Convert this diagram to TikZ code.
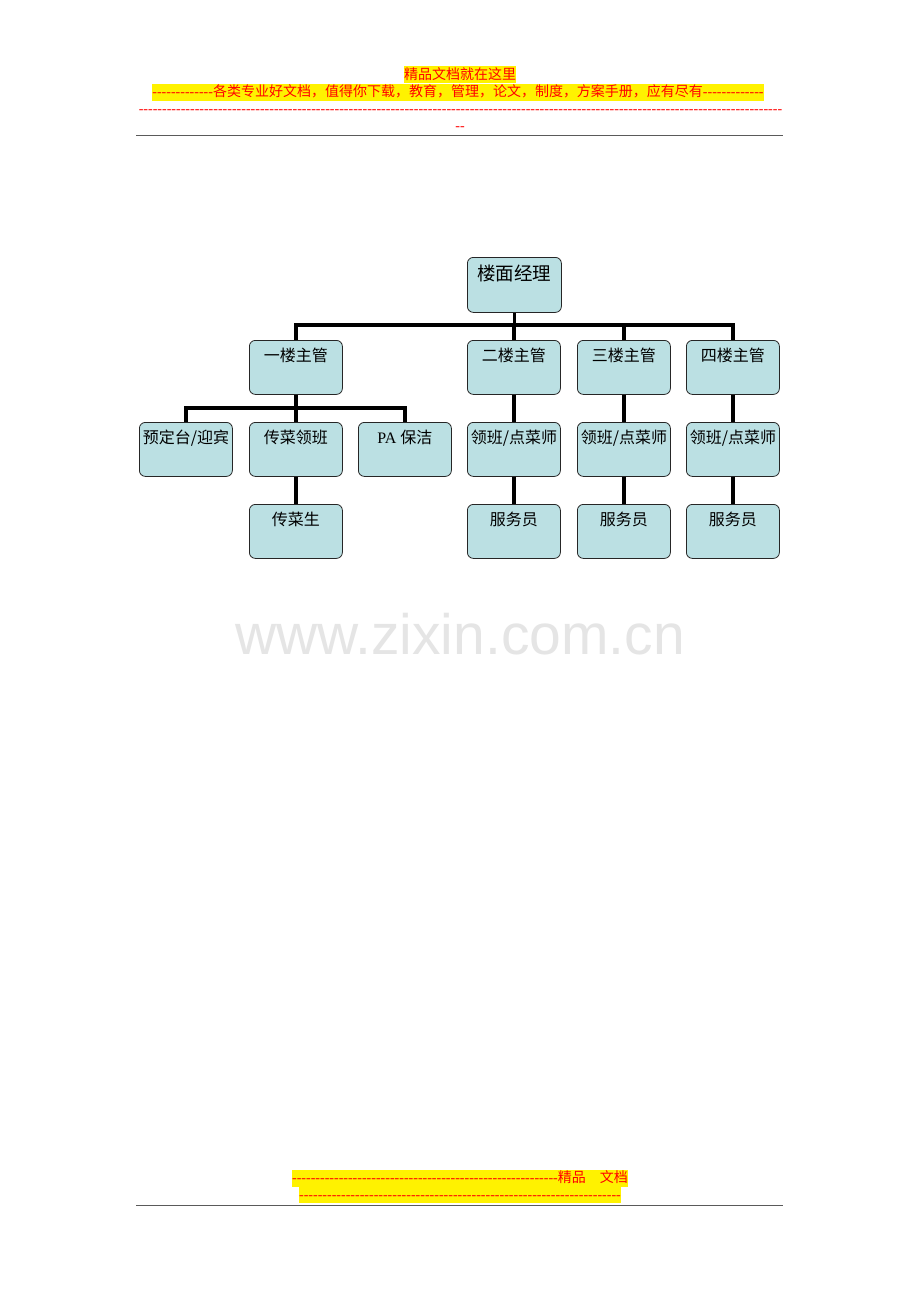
\documentclass[tikz,border=0pt]{standalone}
\usepackage{fontspec}
\setmainfont{Liberation Serif}
\newfontfamily\cjk{Noto Sans CJK SC}
\newfontfamily\wmfont{Liberation Sans}
\definecolor{boxfill}{RGB}{187,224,227}
\definecolor{rulegray}{RGB}{90,90,90}
\newcommand\rdashes[1]{\foreach \i in {1,...,#1}{-\kern0pt}}
\tikzset{
  box/.style={draw=black!85, line width=0.8pt, fill=boxfill, rounded corners=6pt,
    minimum width=93pt, inner xsep=1pt, inner ysep=4pt, text height=17pt, text depth=29pt,
    font=\cjk\fontsize{16}{18}\selectfont, anchor=north west},
  topbox/.style={box, minimum width=94pt, text height=19pt, text depth=28pt,
    font=\cjk\fontsize{18.5}{20}\selectfont},
  link/.style={line width=3.5pt, black},
  hl/.style={fill=yellow, text=red, inner xsep=0pt, inner ysep=0pt, text height=13pt, text depth=4pt},
  hdtext/.style={font=\fontsize{14}{16}\selectfont, text=red, inner sep=0pt, anchor=base},
  rulel/.style={rulegray, line width=1.6pt}
}
\begin{document}
\begin{tikzpicture}[x=1pt,y=-1pt]
\useasboundingbox (0,0) rectangle (920,1302);
\fill[white] (0,0) rectangle (920,1302);

% header
\node[hl, font=\cjk\fontsize{14}{16}\selectfont] (hd1) at (460,74.5) {精品文档就在这里};
\node[hl, font=\fontsize{14}{16}\selectfont] (hd2) at (458,92) {\rdashes{13}{\cjk 各类专业好文档，值得你下载，教育，管理，论文，制度，方案手册，应有尽有}\rdashes{13}};
\node[hdtext] (hd3) at (460.5,113.5) {\rdashes{138}};
\node[hdtext] (hd4) at (460,130.5) {\rdashes{2}};
\draw[rulel] (136,135.5) -- (783,135.5);

% watermark
\node[text=black!10, font=\wmfont\fontsize{57}{60}\selectfont, inner sep=0pt] (wm) at (460,634) {www.zixin.com.cn};

% boxes
\node[topbox] (top) at (467,257) {楼面经理};
\node[box] (f1) at (249,340) {一楼主管};
\node[box] (f2) at (467,340) {二楼主管};
\node[box] (f3) at (577,340) {三楼主管};
\node[box] (f4) at (686,340) {四楼主管};
\node[box] (a1) at (139,422) {预定台/迎宾};
\node[box] (a2) at (249,422) {传菜领班};
\node[box] (a3) at (358,422) {{\rmfamily PA }保洁};
\node[box] (b1) at (467,422) {领班/点菜师};
\node[box] (b2) at (577,422) {领班/点菜师};
\node[box] (b3) at (686,422) {领班/点菜师};
\node[box] (c1) at (249,504) {传菜生};
\node[box] (d1) at (467,504) {服务员};
\node[box] (d2) at (577,504) {服务员};
\node[box] (d3) at (686,504) {服务员};

% connectors
\coordinate (bar1) at (514,325);
\coordinate (bar2) at (295,408);
\draw[link] (top.south) -- (top.south |- bar1);
\draw[link] (f1.north) -- (f1.north |- bar1) -- (f4.north |- bar1) -- (f4.north);
\draw[link] (f2.north) -- (f2.north |- bar1);
\draw[link] (f3.north) -- (f3.north |- bar1);
\draw[link] (f1.south) -- (f1.south |- bar2);
\draw[link] (a1.north) -- (a1.north |- bar2) -- (a3.north |- bar2) -- (a3.north);
\draw[link] (a2.north) -- (a2.north |- bar2);
\draw[link] (f2.south) -- (b1.north);
\draw[link] (f3.south) -- (b2.north);
\draw[link] (f4.south) -- (b3.north);
\draw[link] (a2.south) -- (c1.north);
\draw[link] (b1.south) -- (d1.north);
\draw[link] (b2.south) -- (d2.north);
\draw[link] (b3.south) -- (d3.north);

% footer
\node[hl, font=\fontsize{14}{16}\selectfont] (ft1) at (460,1178) {\rdashes{57}{\cjk 精品　文档}};
\node[hl, font=\fontsize{14}{16}\selectfont, text height=12pt, text depth=4pt] (ft2) at (460,1195) {\rdashes{69}};
\draw[rulel] (136,1205.5) -- (783,1205.5);
\end{tikzpicture}
\end{document}
